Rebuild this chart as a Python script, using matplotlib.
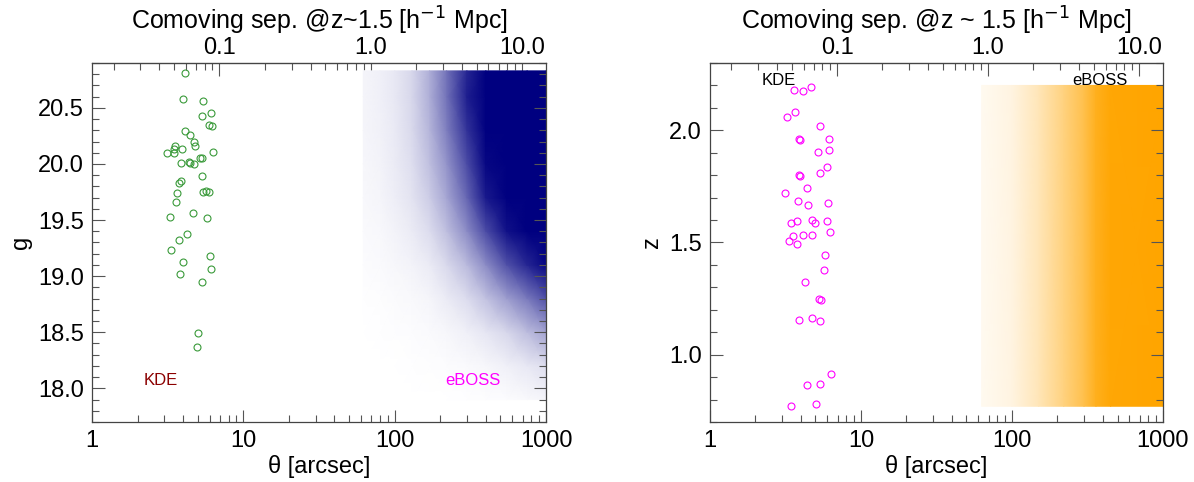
import matplotlib
matplotlib.use("Agg")
import matplotlib.pyplot as plt
import numpy as np
from matplotlib.colors import LinearSegmentedColormap
from matplotlib.ticker import LogLocator, FixedLocator, FixedFormatter, MultipleLocator, NullFormatter

plt.rcParams['font.family'] = ['Liberation Sans', 'DejaVu Sans']

# KDE pairs, left panel (theta [arcsec], g)
kde_theta_g = [4.10, 3.96, 5.37, 6.12, 5.33, 5.93, 6.21, 4.12, 4.45, 4.70, 4.77, 3.52,
               3.46, 3.92, 6.28, 3.14, 3.46, 4.36, 4.41, 3.86, 4.70, 5.13, 5.33, 5.29,
               3.90, 3.73, 5.42, 5.70, 5.93, 3.63, 3.56, 4.65, 3.25, 5.73, 4.27, 3.73,
               3.33, 6.06, 3.96, 6.15, 3.82, 5.33, 5.02, 4.92]
kde_g = [20.81, 20.58, 20.56, 20.45, 20.43, 20.35, 20.34, 20.29, 20.26, 20.20, 20.16, 20.16,
         20.13, 20.13, 20.11, 20.10, 20.10, 20.02, 20.01, 20.01, 20.00, 20.05, 20.05, 19.89,
         19.85, 19.83, 19.75, 19.76, 19.75, 19.74, 19.66, 19.56, 19.53, 19.52, 19.38, 19.32,
         19.23, 19.18, 19.13, 19.06, 19.02, 18.95, 18.49, 18.37]

# KDE pairs, right panel (theta [arcsec], z)
kde_theta_z = [3.59, 4.11, 4.64, 3.64, 3.26, 5.32, 3.89, 3.93, 6.10, 5.16, 6.13, 5.95,
               5.32, 3.89, 3.95, 4.39, 3.14, 3.83, 4.46, 6.04, 3.75, 3.46, 4.76, 4.96,
               5.92, 6.20, 3.53, 4.13, 4.71, 3.34, 3.75, 5.77, 5.71, 4.28, 5.27, 5.43,
               3.87, 4.71, 5.32, 6.29, 4.37, 5.38, 3.44, 5.06]
kde_z = [2.179, 2.173, 2.195, 2.080, 2.061, 2.017, 1.962, 1.957, 1.962, 1.905, 1.911, 1.838,
         1.809, 1.800, 1.797, 1.745, 1.721, 1.686, 1.667, 1.677, 1.598, 1.585, 1.600, 1.588,
         1.597, 1.546, 1.531, 1.535, 1.535, 1.507, 1.495, 1.445, 1.376, 1.326, 1.249, 1.245,
         1.155, 1.165, 1.152, 0.914, 0.865, 0.871, 0.772, 0.781]

# eBOSS pair cloud, left panel: fraction of area covered by points
eboss_theta_nodes = [62, 80, 100, 130, 170, 220, 300, 400, 550, 750, 1000]
eboss_g_nodes = [17.9, 18.2, 18.5, 18.8, 19.1, 19.4, 19.7, 20.0, 20.3, 20.6, 20.83]
eboss_g_cover = [
    [0.0, 0.0, 0.0, 0.0, 0.001, 0.003, 0.005, 0.008, 0.012, 0.025, 0.04],
    [0.0, 0.001, 0.003, 0.005, 0.008, 0.012, 0.02, 0.035, 0.06, 0.09, 0.13],
    [0.002, 0.004, 0.008, 0.012, 0.02, 0.035, 0.06, 0.10, 0.16, 0.26, 0.36],
    [0.006, 0.01, 0.018, 0.025, 0.04, 0.08, 0.14, 0.24, 0.38, 0.52, 0.68],
    [0.015, 0.02, 0.035, 0.05, 0.08, 0.15, 0.27, 0.45, 0.68, 0.85, 0.97],
    [0.02, 0.03, 0.05, 0.08, 0.14, 0.25, 0.45, 0.70, 0.93, 1.0, 1.0],
    [0.03, 0.04, 0.07, 0.11, 0.20, 0.35, 0.60, 0.90, 1.0, 1.0, 1.0],
    [0.035, 0.05, 0.08, 0.13, 0.25, 0.42, 0.70, 0.97, 1.0, 1.0, 1.0],
    [0.04, 0.055, 0.085, 0.15, 0.29, 0.50, 0.80, 1.0, 1.0, 1.0, 1.0],
    [0.04, 0.06, 0.09, 0.16, 0.32, 0.55, 0.88, 1.0, 1.0, 1.0, 1.0],
    [0.04, 0.06, 0.09, 0.16, 0.32, 0.55, 0.85, 1.0, 1.0, 1.0, 1.0],
]

# eBOSS pair cloud, right panel
eboss_theta_nodes_z = [63, 100, 150, 220, 300, 360, 450, 1000]
eboss_z_nodes = [0.77, 2.20]
eboss_z_cover = [0.06, 0.12, 0.28, 0.50, 0.70, 0.88, 0.98, 1.0]

arcsec_to_mpc = 0.0144  # comoving h^-1 Mpc per arcsec at z~1.5

navy = '#000080'
orange = '#FFA500'
green = '#3A9A3A'
magenta = '#FF00FF'

fig = plt.figure(figsize=(11.94, 4.82), dpi=100)
ax1 = fig.add_axes([0.0771, 0.1245, 0.3802, 0.7448])
ax2 = fig.add_axes([0.5946, 0.1245, 0.3794, 0.7448])

cmap_n = LinearSegmentedColormap.from_list('wn', ['white', navy])
cmap_o = LinearSegmentedColormap.from_list('wo', ['white', orange])

T, G = np.meshgrid(eboss_theta_nodes, eboss_g_nodes)
ax1.pcolormesh(T, G, np.array(eboss_g_cover), cmap=cmap_n, vmin=0, vmax=1,
               shading='gouraud', rasterized=True)
ax1.plot(kde_theta_g, kde_g, 'o', mfc='none', mec=green, ms=5, mew=0.8)
ax1.set_ylim(17.7, 20.9)
ax1.set_ylabel('g', fontsize=17)
ax1.text(2.2, 18.07, 'KDE', color='#8B0000', fontsize=12, va='center')
ax1.text(217, 18.07, 'eBOSS', color=magenta, fontsize=12, va='center')
ax1.yaxis.set_major_locator(MultipleLocator(0.5))
ax1.yaxis.set_minor_locator(MultipleLocator(0.1))
ax1.yaxis.set_major_formatter(plt.FormatStrFormatter('%.1f'))

T2, Z2 = np.meshgrid(eboss_theta_nodes_z, eboss_z_nodes)
C2 = np.vstack([eboss_z_cover, eboss_z_cover])
ax2.pcolormesh(T2, Z2, C2, cmap=cmap_o, vmin=0, vmax=1, shading='gouraud', rasterized=True)
ax2.plot(kde_theta_z, kde_z, 'o', mfc='none', mec=magenta, ms=5, mew=0.8)
ax2.set_ylim(0.7, 2.3)
ax2.set_ylabel('z', fontsize=17)
ax2.text(2.2, 2.22, 'KDE', color='black', fontsize=12, va='center')
ax2.text(249, 2.22, 'eBOSS', color='black', fontsize=12, va='center')
ax2.yaxis.set_major_locator(MultipleLocator(0.5))
ax2.yaxis.set_minor_locator(MultipleLocator(0.1))
ax2.yaxis.set_major_formatter(plt.FormatStrFormatter('%.1f'))

titles = [r'Comoving sep. @z~1.5 [h$^{-1}$ Mpc]', r'Comoving sep. @z ~ 1.5 [h$^{-1}$ Mpc]']
for ax, title in zip([ax1, ax2], titles):
    ax.set_xscale('log')
    ax.set_xlim(1, 1000)
    ax.xaxis.set_major_locator(FixedLocator([1, 10, 100, 1000]))
    ax.xaxis.set_major_formatter(FixedFormatter(['1', '10', '100', '1000']))
    ax.xaxis.set_minor_locator(LogLocator(base=10, subs=np.arange(2, 10)))
    ax.xaxis.set_minor_formatter(NullFormatter())
    ax.set_xlabel(u'\u03b8 [arcsec]', fontsize=17, labelpad=2)
    ax.tick_params(which='both', direction='in', top=False, right=True, labelsize=17,
                   color='#555555')
    ax.tick_params(which='major', length=9, width=0.8, pad=6)
    ax.tick_params(which='minor', length=5, width=0.8)
    for s in ax.spines.values():
        s.set_color('#444444')
        s.set_linewidth(0.9)

    sec = ax.secondary_xaxis('top', functions=(lambda x: x * arcsec_to_mpc,
                                               lambda x: x / arcsec_to_mpc))
    sec.xaxis.set_major_locator(FixedLocator([0.1, 1.0, 10.0]))
    sec.xaxis.set_major_formatter(FixedFormatter(['0.1', '1.0', '10.0']))
    sec.xaxis.set_minor_locator(LogLocator(base=10, subs=np.arange(2, 10)))
    sec.xaxis.set_minor_formatter(NullFormatter())
    sec.tick_params(which='both', direction='in', labelsize=17, color='#555555')
    sec.tick_params(which='major', length=9, width=0.8, pad=3)
    sec.tick_params(which='minor', length=5, width=0.8)
    sec.set_xlabel(title, fontsize=18, labelpad=5)

fig.savefig('out.png', dpi=100)
